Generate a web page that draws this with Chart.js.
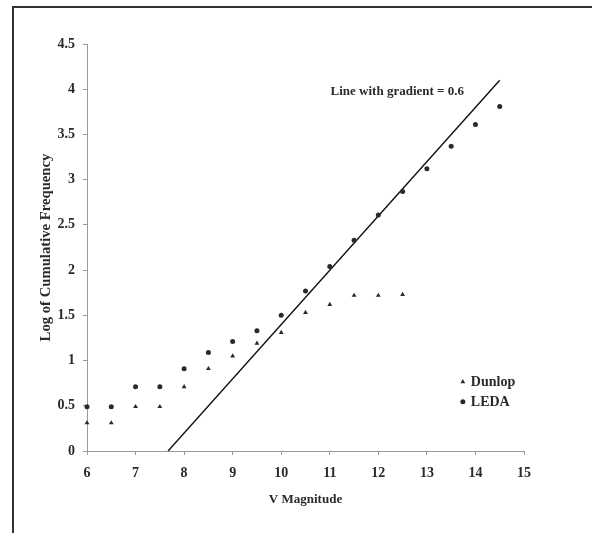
<!DOCTYPE html>
<html>
<head>
<meta charset="utf-8">
<script src="https://cdn.jsdelivr.net/npm/chart.js@4/dist/chart.umd.min.js"></script>
<style>
  html, body { margin: 0; padding: 0; background: #fff; }
  #wrap { position: relative; width: 592px; height: 533px; }
  #frame { position: absolute; left: 12px; top: 6px; right: 0; bottom: 0;
           border-left: 2px solid #333; border-top: 2px solid #333; }
  canvas { position: absolute; left: 0; top: 0; }
</style>
</head>
<body>
<div id="wrap">
  <div id="frame"></div>
  <canvas id="chart" width="592" height="533"></canvas>
</div>
<script>
// données
const magnitudes = [6, 6.5, 7, 7.5, 8, 8.5, 9, 9.5, 10, 10.5, 11, 11.5, 12, 12.5, 13, 13.5, 14, 14.5];
const ledaValues = [0.49, 0.49, 0.71, 0.71, 0.91, 1.09, 1.21, 1.33, 1.50, 1.77, 2.04, 2.33, 2.61, 2.87, 3.12, 3.37, 3.61, 3.81];
const dunlopMagnitudes = [6, 6.5, 7, 7.5, 8, 8.5, 9, 9.5, 10, 10.5, 11, 11.5, 12, 12.5];
const dunlopValues = [0.31, 0.31, 0.49, 0.49, 0.71, 0.91, 1.05, 1.19, 1.31, 1.53, 1.62, 1.72, 1.72, 1.73];
// droite de pente 0.6
const lineX = [7.67, 14.5];
const lineY = [0, 4.1];
const annotation = { text: 'Line with gradient = 0.6', x: 12.39, y: 3.97 };

const FONT = '"Liberation Serif", "Times New Roman", serif';
const INK = '#2a2a2a';
const AXIS = '#9a9a9a';

const toPoints = (xs, ys) => xs.map((x, i) => ({ x: x, y: ys[i] }));

// texte + légende dessinés à la main
const extras = {
    id: 'extras',
    afterDatasetsDraw(chart) {
        const { ctx, scales, chartArea } = chart;
        ctx.save();
        ctx.fillStyle = INK;
        ctx.font = 'bold 13px ' + FONT;
        ctx.textAlign = 'center';
        ctx.textBaseline = 'middle';
        ctx.fillText(annotation.text, scales.x.getPixelForValue(annotation.x), scales.y.getPixelForValue(annotation.y));

        // légende
        const lx = chartArea.left + (chartArea.right - chartArea.left) * 0.86;
        const ly = chartArea.top + (chartArea.bottom - chartArea.top) * 0.83;
        ctx.font = 'bold 14px ' + FONT;
        ctx.textAlign = 'left';
        [0, 1].forEach((i) => {
            const ds = chart.data.datasets[i];
            const y = ly + i * 20;
            Chart.helpers.drawPoint(ctx, {
                pointStyle: ds.pointStyle,
                radius: ds.pointRadius,
                rotation: 0,
                borderWidth: 0
            }, lx, y);
            ctx.fillStyle = INK;
            ctx.fillText(ds.label, lx + 8, y + 1);
        });
        ctx.restore();
    }
};

new Chart(document.getElementById('chart'), {
    type: 'scatter',
    data: {
        datasets: [{
            label: 'Dunlop',
            data: toPoints(dunlopMagnitudes, dunlopValues),
            pointStyle: 'triangle',
            pointRadius: 2.8,
            backgroundColor: INK,
            borderColor: INK,
            borderWidth: 0,
            clip: false
        }, {
            label: 'LEDA',
            data: toPoints(magnitudes, ledaValues),
            pointStyle: 'circle',
            pointRadius: 2.5,
            backgroundColor: INK,
            borderColor: INK,
            borderWidth: 0,
            clip: false
        }, {
            label: 'gradient',
            type: 'line',
            data: toPoints(lineX, lineY),
            showLine: true,
            pointRadius: 0,
            borderColor: '#111',
            borderWidth: 1.4,
            fill: false
        }]
    },
    options: {
        responsive: false,
        animation: false,
        layout: { padding: { left: 0, top: 44, right: 68, bottom: 0 } },
        plugins: {
            legend: { display: false },
            tooltip: { enabled: false }
        },
        scales: {
            x: {
                type: 'linear',
                min: 6,
                max: 15,
                afterFit: (scale) => { scale.height = 82; },
                ticks: {
                    stepSize: 1,
                    padding: 10,
                    color: INK,
                    font: { family: FONT, size: 14, weight: 'bold' },
                    callback: (v) => String(v)
                },
                grid: { drawOnChartArea: false, tickLength: 4, color: AXIS },
                border: { color: AXIS, width: 1 },
                title: {
                    display: true,
                    text: 'V Magnitude',
                    color: INK,
                    font: { family: FONT, size: 13, weight: 'bold' },
                    padding: { top: 0, bottom: 26 }
                }
            },
            y: {
                min: 0,
                max: 4.5,
                afterFit: (scale) => { scale.width = 87; },
                ticks: {
                    stepSize: 0.5,
                    padding: 8,
                    color: INK,
                    font: { family: FONT, size: 14, weight: 'bold' },
                    callback: (v) => String(v)
                },
                grid: { drawOnChartArea: false, tickLength: 4, color: AXIS },
                border: { color: AXIS, width: 1 },
                title: {
                    display: true,
                    text: 'Log of Cumulative Frequency',
                    color: INK,
                    font: { family: FONT, size: 14.7, weight: 'bold' },
                    padding: { top: 37, bottom: 0 }
                }
            }
        }
    },
    plugins: [extras]
});
</script>
</body>
</html>
